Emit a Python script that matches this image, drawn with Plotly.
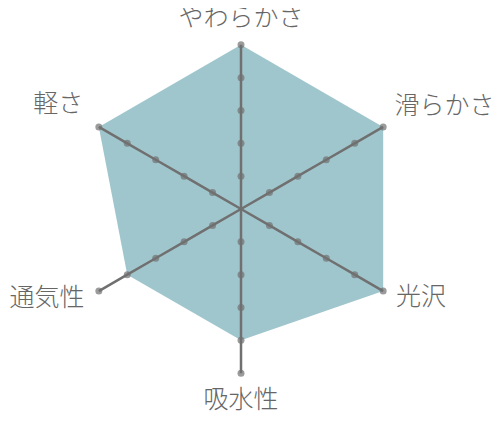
import plotly.graph_objects as go

# radar categories (clockwise from the top) and scores out of 5
categories = ['やわらかさ', '滑らかさ', '光沢', '吸水性', '通気性', '軽さ']
scores = [5, 5, 5, 4, 4, 5]
scale_steps = [0, 1, 2, 3, 4, 5]

fill_color = '#a0c6cd'
axis_color = '#707070'
label_font = 'Noto Sans CJK JP'

# where the category names sit around the outer tips
label_r = [5.38, 5.4, 5.45, 5.5, 5.5, 5.55]
label_pos = ['top center', 'top right', 'middle right',
             'bottom center', 'middle left', 'top left']

fig = go.Figure()

# filled score polygon
fig.add_trace(go.Scatterpolar(r=scores + scores[:1],
                              theta=categories + categories[:1],
                              mode='lines',
                              fill='toself',
                              fillcolor=fill_color,
                              line=dict(width=0, color=fill_color),
                              hoverinfo='skip',
                              showlegend=False))

# spokes with a dot on every scale step
for cat in categories:
    fig.add_trace(go.Scatterpolar(r=scale_steps,
                                  theta=[cat] * len(scale_steps),
                                  mode='lines+markers',
                                  line=dict(color=axis_color, width=2.5),
                                  marker=dict(color=axis_color,
                                              size=[0] + [7] * (len(scale_steps) - 1),
                                              line=dict(width=0)),
                                  hoverinfo='skip',
                                  showlegend=False))

# category names
fig.add_trace(go.Scatterpolar(r=label_r,
                              theta=categories,
                              mode='text',
                              text=categories,
                              textposition=label_pos,
                              textfont=dict(family=label_font,
                                            color='#666666',
                                            size=25,
                                            weight=300),
                              cliponaxis=False,
                              hoverinfo='skip',
                              showlegend=False))

# the outer part of the radial range (5..6) only holds the labels
fig.update_layout(width=500,
                  height=425,
                  margin=dict(l=36, r=70, t=4, b=27),
                  paper_bgcolor='white',
                  plot_bgcolor='white',
                  font=dict(family=label_font, color='#666666', size=25),
                  polar=dict(bgcolor='rgba(0,0,0,0)',
                             radialaxis=dict(visible=False, range=[0, 6]),
                             angularaxis=dict(direction='clockwise',
                                              rotation=90,
                                              showgrid=False,
                                              showline=False,
                                              showticklabels=False,
                                              ticks='')))

fig.write_html("out.html")
